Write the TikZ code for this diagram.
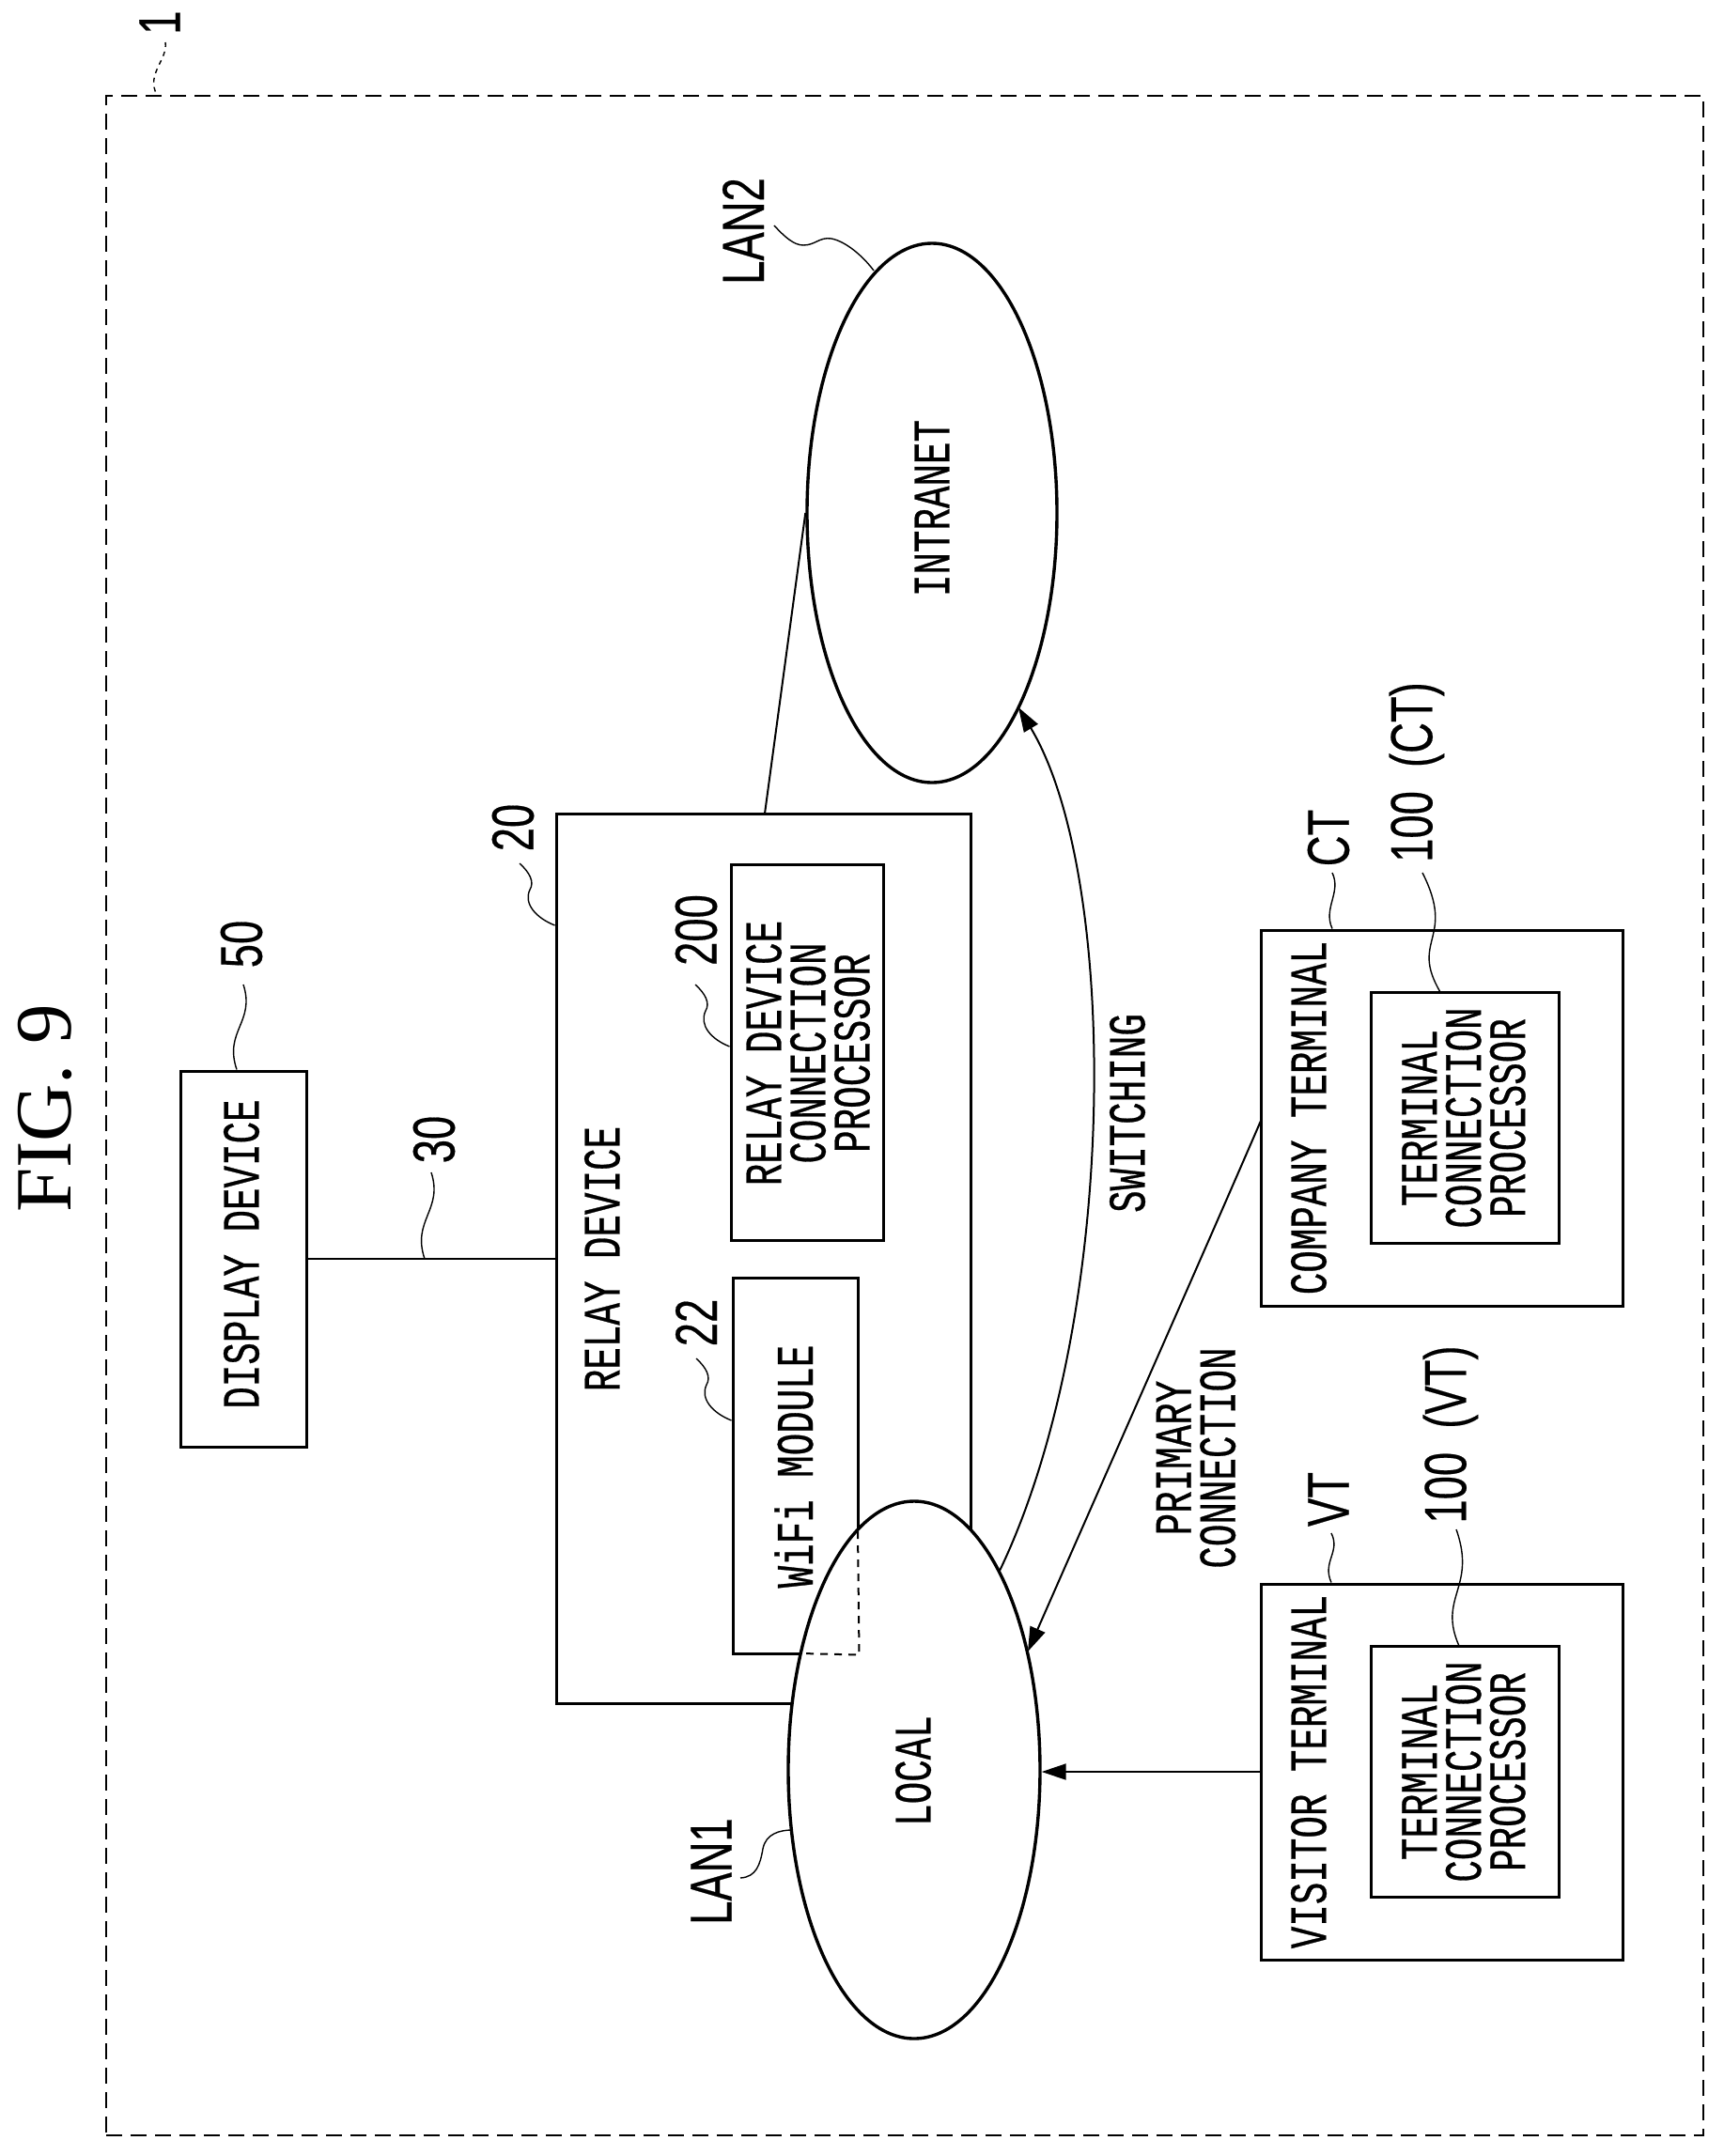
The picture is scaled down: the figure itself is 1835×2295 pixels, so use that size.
\documentclass[tikz,border=0pt]{standalone}
\usepackage{fontspec}
\setmainfont{Liberation Sans}
\newfontfamily\figfont[FakeStretch=0.7,FakeBold=0.5]{Liberation Mono}
\newfontfamily\numfont[FakeStretch=0.72,FakeBold=0.3]{Liberation Sans}
\newfontfamily\titlefont{Liberation Serif}
\usetikzlibrary{arrows.meta,calc,positioning,shapes.geometric}
\tikzset{
    %Define standard arrow tip
    >={Triangle[length=26pt,width=17pt]},
    %Define style for boxes
    unit/.style={
           rectangle,
           draw=black, line width=3pt,
           fill=white,
           inner sep=0pt},
    %Define style for the two networks
    net/.style={
           ellipse,
           draw=black, line width=3.4pt,
           fill=white,
           inner sep=0pt},
    % Texts, all turned a quarter
    txt/.style={
           rotate=90,
           inner sep=0pt,
           align=center,
           font=\figfont\fontsize{56}{47}\selectfont},
    num/.style={
           rotate=90,
           inner sep=0pt,
           font=\numfont\fontsize{63}{63}\selectfont},
    % Define arrow style
    pil/.style={
           ->,
           line width=2pt},
    % Define leader style
    lead/.style={line width=1.4pt}
}
% leaders that come in sideways, and those that come in from above
\newcommand{\hooklead}[2]{\draw[lead] (#1) .. controls +(11,10) and +(5,-8) .. ($(#1)+(11,28)$) .. controls +(-7,15) and +(-20,-8) .. (#2);}
\newcommand{\wavelead}[2]{\draw[lead] (#1) .. controls +(13,40) and +(-14,-41) .. (#2);}

\begin{document}
\begin{tikzpicture}[x=1pt, y=-1pt]
    \useasboundingbox (0,0) rectangle (1835,2295);
    \node[rotate=90, inner sep=0pt, font=\titlefont\fontsize{85}{85}\selectfont] (title) at (48,1180) {FIG. 9};
    \node[draw, dash pattern=on 17pt off 9pt, line width=2pt, minimum width=1700pt, minimum height=2171pt, inner sep=0pt] (system) at (963,1187.5) {};
    \node[num] (n1) at (170,24) {1};
    \coordinate (l1) at (176,45);
    \draw[lead, dash pattern=on 5pt off 5pt] (l1) .. controls +(3,18) and +(-12,-22) .. ($(l1 |- system.north)+(-9,0)$);

    % boxes
    \node[unit, minimum width=134pt, minimum height=400pt] (display) at (259,1340) {};
    \node[unit, minimum width=441pt, minimum height=947pt] (relay) at (812.5,1339.5) {};
    \node[unit, minimum width=162pt, minimum height=400pt] (relayproc) at (859,1120) {};
    \node[unit, minimum width=133pt, minimum height=400pt] (wifi) at (846.5,1560) {};
    \node[unit, minimum width=385pt, minimum height=400pt] (company) at (1534.5,1190) {};
    \node[unit, minimum width=200pt, minimum height=267pt] (companyproc) at (1559,1189.5) {};
    \node[unit, minimum width=385pt, minimum height=400pt] (visitor) at (1534.5,1886) {};
    \node[unit, minimum width=200pt, minimum height=267pt] (visitorproc) at (1559,1886) {};

    % networks
    \node[net, minimum width=268pt, minimum height=572pt] (local) at (973,1884) {};
    \node[net, minimum width=266pt, minimum height=574pt] (intranet) at (992,546) {};

    % part of wifi behind local
    \coordinate (wifitop) at (913,1630);
    \coordinate (wifileft) at (853,1760);
    \draw[line width=2pt, dash pattern=on 8pt off 7pt] (wifitop) -- (wifi.south east) -- (wifileft);

    % connections
    \draw[line width=2.6pt] (display.east) -- (display.east -| relay.west);
    \coordinate (relayup) at (814,866);
    \draw[line width=2pt] (relayup) -- (intranet.west);
    \coordinate (switchstart) at (1064,1672);
    \coordinate (switchend) at (1084,753);
    \draw[pil] (switchstart) .. controls (1192,1405) and (1192,933) .. (switchend);
    \coordinate (primstart) at (1342,1193);
    \coordinate (primend) at (1094,1758);
    \draw[pil] (primstart) .. controls (1285,1325) and (1170,1585) .. (primend);
    \draw[pil] (visitor.west) -- (visitor.west -| local.east);

    % texts
    \node[txt] (displaytxt) at (257,1335) {DISPLAY DEVICE};
    \node[txt] (relaytxt) at (641,1340) {RELAY DEVICE};
    \node[txt] (relayproctxt) at (860,1121) {RELAY DEVICE\\CONNECTION\\PROCESSOR};
    \node[txt] (wifitxt) at (845,1561) {WiFi MODULE};
    \node[txt] (localtxt) at (972,1885) {LOCAL};
    \node[txt] (intranettxt) at (992,541) {INTRANET};
    \node[txt] (switchtxt) at (1200,1185) {SWITCHING};
    \node[txt] (primtxt) at (1273,1552) {PRIMARY\\CONNECTION};
    \node[txt] (companytxt) at (1393,1190) {COMPANY TERMINAL};
    \node[txt] (visitortxt) at (1393,1886) {VISITOR TERMINAL};
    \node[txt] (companyproctxt) at (1558,1190) {TERMINAL\\CONNECTION\\PROCESSOR};
    \node[txt] (visitorproctxt) at (1558,1886) {TERMINAL\\CONNECTION\\PROCESSOR};

    % reference labels
    \node[num] (lan2) at (791,246) {LAN2};
    \node[num] (lan1) at (757,1992) {LAN1};
    \node[num] (n50) at (257,1005) {50};
    \node[num] (n30) at (462,1213) {30};
    \node[num] (n20) at (546,881) {20};
    \node[num] (n200) at (741,990) {200};
    \node[num] (n22) at (741,1408) {22};
    \node[num] (ct) at (1414,892) {CT};
    \node[num] (n100ct) at (1508,822) {100\hspace{.2em} (CT)};
    \node[num] (vt) at (1414,1596) {VT};
    \node[num] (n100vt) at (1544,1527) {100\hspace{.2em} (VT)};

    % leaders
    \coordinate (l2a) at (824,240);
    \coordinate (l2b) at (930,288);
    \draw[lead] (l2a) .. controls (835,252) and (845,261) .. (855,261) .. controls (868,261) and (872,252) .. (885,254) .. controls (900,257) and (918,272) .. (l2b);
    \coordinate (l1a) at (788,1999);
    \coordinate (l1b) at (843,1948);
    \draw[lead] (l1a) .. controls (805,1998) and (809,1985) .. (812,1968) .. controls (815,1952) and (830,1948) .. (l1b);
    \coordinate (l50) at (259,1048);
    \wavelead{l50}{$(display.north)+(-7,0)$}
    \coordinate (l30) at (459,1248);
    \wavelead{l30}{$(l30 |- display.east)+(-7,0)$}
    \coordinate (l20) at (553,919);
    \hooklead{l20}{relay.west |- 0,985}
    \coordinate (l200) at (740,1048);
    \hooklead{l200}{relayproc.west |- 0,1114}
    \coordinate (l22) at (741,1446);
    \hooklead{l22}{wifi.west |- 0,1512}
    \coordinate (lct) at (1418,929);
    \draw[lead] (lct) .. controls +(10,21) and +(-10,-22) .. (lct |- company.north);
    \coordinate (lcp) at (1514,929);
    \coordinate (lcpb) at (1533,1056);
    \draw[lead] (lcp) .. controls (1550,1000) and (1500,1000) .. (lcpb);
    \coordinate (lvt) at (1417,1632);
    \draw[lead] (lvt) .. controls +(10,20) and +(-10,-22) .. (lvt |- visitor.north);
    \coordinate (lvp) at (1550,1628);
    \coordinate (lvpb) at (1553,1752);
    \draw[lead] (lvp) .. controls (1572,1690) and (1530,1700) .. (lvpb);
\end{tikzpicture}
\end{document}
